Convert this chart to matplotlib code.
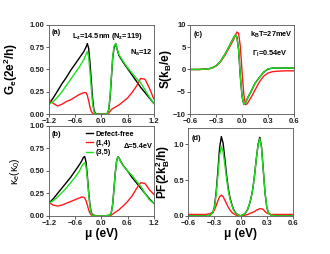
import numpy as np
import matplotlib
matplotlib.use("Agg")
import matplotlib.pyplot as plt

plt.rcParams['font.family'] = ['Liberation Sans', 'DejaVu Sans']
plt.rcParams['font.weight'] = 'bold'
plt.rcParams['mathtext.default'] = 'regular'

# ---- (a) electrical conductance ----
mu_g = [-1.2, -1.1, -1.0, -0.9, -0.8, -0.7, -0.6, -0.5, -0.4, -0.35, -0.32, -0.29, -0.26, -0.23, -0.2,
        -0.17, -0.14, -0.1, 0.0, 0.1, 0.14, 0.17, 0.2, 0.23, 0.26, 0.29, 0.33, 0.36, 0.4, 0.5, 0.6,
        0.7, 0.8, 0.9, 1.0, 1.1, 1.2]
g_free = [0.11, 0.18, 0.26, 0.34, 0.41, 0.49, 0.56, 0.63, 0.70, 0.75, 0.79, 0.74, 0.58, 0.38, 0.18,
          0.05, 0.01, 0.0, 0.0, 0.0, 0.01, 0.05, 0.18, 0.40, 0.62, 0.74, 0.79, 0.73, 0.66, 0.58, 0.51,
          0.44, 0.37, 0.30, 0.24, 0.18, 0.12]
g_14 = [0.16, 0.12, 0.09, 0.11, 0.14, 0.16, 0.19, 0.22, 0.24, 0.24, 0.21, 0.15, 0.08, 0.03, 0.01,
        0.0, 0.0, 0.0, 0.0, 0.0, 0.0, 0.01, 0.03, 0.05, 0.06, 0.07, 0.08, 0.09, 0.10, 0.14, 0.18,
        0.24, 0.31, 0.40, 0.39, 0.29, 0.17]
g_35 = [0.11, 0.14, 0.19, 0.25, 0.32, 0.39, 0.46, 0.53, 0.61, 0.67, 0.70, 0.64, 0.48, 0.30, 0.12,
        0.03, 0.0, 0.0, 0.0, 0.0, 0.01, 0.05, 0.20, 0.42, 0.64, 0.76, 0.79, 0.73, 0.67, 0.59, 0.52,
        0.46, 0.40, 0.35, 0.27, 0.19, 0.12]

# ---- (b) electron thermal conductance ----
mu_k = [-1.2, -1.1, -1.0, -0.9, -0.8, -0.7, -0.6, -0.5, -0.45, -0.41, -0.38, -0.35, -0.32, -0.29,
        -0.26, -0.23, -0.2, -0.1, 0.0, 0.1, 0.2, 0.23, 0.26, 0.29, 0.32, 0.35, 0.38, 0.41, 0.45,
        0.5, 0.6, 0.7, 0.8, 0.9, 1.0, 1.1, 1.2]
k_free = [0.14, 0.19, 0.25, 0.31, 0.37, 0.43, 0.50, 0.57, 0.61, 0.65, 0.66, 0.60, 0.45, 0.27,
          0.12, 0.04, 0.01, 0.0, 0.0, 0.0, 0.01, 0.04, 0.13, 0.30, 0.48, 0.61, 0.66, 0.64, 0.60,
          0.56, 0.50, 0.43, 0.37, 0.31, 0.25, 0.19, 0.14]
k_14 = [0.15, 0.12, 0.11, 0.12, 0.14, 0.16, 0.18, 0.20, 0.21, 0.21, 0.20, 0.17, 0.12, 0.07,
        0.03, 0.01, 0.0, 0.0, 0.0, 0.0, 0.0, 0.01, 0.02, 0.03, 0.04, 0.05, 0.06, 0.07, 0.09,
        0.11, 0.16, 0.22, 0.30, 0.37, 0.36, 0.29, 0.24]
k_35 = [0.14, 0.17, 0.21, 0.26, 0.31, 0.37, 0.43, 0.50, 0.55, 0.58, 0.59, 0.55, 0.42, 0.25,
        0.11, 0.03, 0.0, 0.0, 0.0, 0.0, 0.01, 0.04, 0.13, 0.30, 0.48, 0.61, 0.66, 0.64, 0.60,
        0.56, 0.50, 0.45, 0.39, 0.33, 0.25, 0.18, 0.14]

# ---- (c) Seebeck coefficient ----
mu_s = [-0.6, -0.5, -0.4, -0.35, -0.3, -0.25, -0.2, -0.15, -0.12, -0.1, -0.08, -0.06, -0.04, -0.02,
        0.0, 0.02, 0.04, 0.06, 0.08, 0.1, 0.12, 0.15, 0.2, 0.25, 0.3, 0.35, 0.4, 0.5, 0.6]
s_14 = [0.0, 0.0, 0.1, 0.3, 0.8, 1.7, 3.1, 4.8, 5.9, 6.6, 7.5, 8.4, 8.1, 5.2,
        -0.5, -5.5, -7.9, -7.7, -7.0, -6.4, -5.7, -4.6, -2.8, -1.5, -0.8, -0.5, -0.4, -0.3, -0.3]
s_35 = [0.0, 0.0, 0.1, 0.3, 0.8, 1.8, 3.3, 5.1, 6.3, 7.0, 7.7, 7.3, 4.5, -1.5,
        -6.0, -7.8, -7.5, -6.6, -5.8, -5.1, -4.3, -3.1, -1.8, -0.6, 0.1, 0.3, 0.3, 0.3, 0.3]
s_free = [0.0, 0.0, 0.1, 0.3, 0.8, 1.8, 3.3, 5.1, 6.3, 7.0, 7.7, 7.3, 4.5, -1.5,
          -6.0, -7.8, -7.5, -6.6, -5.8, -5.1, -4.3, -3.1, -1.8, -0.6, 0.1, 0.3, 0.3, 0.3, 0.3]

# ---- (d) power factor ----
mu_p = [-0.6, -0.5, -0.4, -0.35, -0.32, -0.3, -0.28, -0.26, -0.24, -0.22, -0.2, -0.18, -0.16, -0.14,
        -0.12, -0.1, -0.08, -0.05, 0.0, 0.05, 0.08, 0.1, 0.12, 0.14, 0.16, 0.18, 0.2, 0.22, 0.24,
        0.26, 0.28, 0.3, 0.32, 0.35, 0.4, 0.5, 0.6]
pf_free = [0.0, 0.0, 0.0, 0.01, 0.04, 0.12, 0.32, 0.62, 0.95, 1.11, 1.02, 0.80, 0.57, 0.38,
           0.25, 0.16, 0.09, 0.03, 0.0, 0.03, 0.09, 0.16, 0.25, 0.38, 0.57, 0.80, 1.00, 1.10, 0.96,
           0.64, 0.32, 0.12, 0.04, 0.01, 0.0, 0.0, 0.0]
pf_14 = [0.02, 0.02, 0.02, 0.03, 0.05, 0.08, 0.14, 0.21, 0.27, 0.29, 0.27, 0.22, 0.17, 0.12,
         0.08, 0.05, 0.03, 0.01, 0.0, 0.01, 0.02, 0.03, 0.04, 0.05, 0.06, 0.08, 0.09, 0.10, 0.10,
         0.09, 0.06, 0.04, 0.03, 0.02, 0.02, 0.02, 0.02]
pf_35 = [0.0, 0.0, 0.0, 0.01, 0.04, 0.11, 0.29, 0.56, 0.85, 0.97, 0.90, 0.72, 0.52, 0.35,
         0.23, 0.15, 0.08, 0.03, 0.0, 0.03, 0.09, 0.16, 0.25, 0.38, 0.57, 0.80, 0.99, 1.08, 0.95,
         0.63, 0.32, 0.12, 0.04, 0.01, 0.0, 0.0, 0.0]

labels = ["Defect-free", "(1,4)", "(3,5)"]
colors = ["black", "#ff1a1a", "#1ee01e"]
tick_fs = 5.5
lw = 1.0
note_fs = 5.3
lab_fs = 8.5

fig = plt.figure(figsize=(3.30, 2.54), dpi=100)
ax_a = fig.add_axes([0.148, 0.551, 0.318, 0.351])
ax_b = fig.add_axes([0.148, 0.150, 0.318, 0.354])
ax_c = fig.add_axes([0.576, 0.551, 0.315, 0.351])
ax_d = fig.add_axes([0.570, 0.150, 0.318, 0.346])

def style(ax):
    for sp in ax.spines.values():
        sp.set_color('#555555')
        sp.set_linewidth(0.6)
    ax.tick_params(direction='out', length=2, width=0.5, pad=1, labelsize=tick_fs,
                   colors='#222222')
    for t in ax.get_xticklabels() + ax.get_yticklabels():
        t.set_fontweight('bold')

# (a)
for y, c in zip([g_free, g_14, g_35], colors):
    ax_a.plot(mu_g, y, color=c, lw=lw)
ax_a.set_xlim(-1.2, 1.2)
ax_a.set_ylim(0, 1)
ax_a.set_xticks([-1.2, -0.6, 0.0, 0.6, 1.2])
ax_a.set_yticks([0, 0.25, 0.5, 0.75, 1.0])
ax_a.set_yticklabels(["0.00", "0.25", "0.50", "0.75", "1.00"])
ax_a.set_ylabel("G$_e$(2e$^2$/h)", fontsize=lab_fs, fontweight='bold')
ax_a.yaxis.set_label_coords(-0.275, 0.5)
ax_a.text(0.03, 0.91, "(a)", transform=ax_a.transAxes, fontsize=note_fs, va='center')
ax_a.text(0.56, 0.875, "L$_z$=14.5nm (N$_z$=119)", transform=ax_a.transAxes, fontsize=note_fs,
          ha='center', va='center')
ax_a.text(0.88, 0.685, "N$_a$=12", transform=ax_a.transAxes, fontsize=note_fs, ha='center', va='center')
style(ax_a)

# (b)
for y, c, lab in zip([k_free, k_14, k_35], colors, labels):
    ax_b.plot(mu_k, y, color=c, lw=lw, label=lab)
ax_b.set_xlim(-1.2, 1.2)
ax_b.set_ylim(0, 1)
ax_b.set_xticks([-1.2, -0.6, 0.0, 0.6, 1.2])
ax_b.set_yticks([0, 0.25, 0.5, 0.75, 1.0])
ax_b.set_yticklabels(["0.00", "0.25", "0.50", "0.75", "1.00"])
ax_b.set_ylabel("κ$_e$(κ$_0$)", fontsize=7.5, fontweight='normal')
ax_b.yaxis.set_label_coords(-0.26, 0.5)
ax_b.set_xlabel("μ (eV)", fontsize=lab_fs, fontweight='bold', labelpad=1)
ax_b.text(0.03, 0.91, "(b)", transform=ax_b.transAxes, fontsize=note_fs, va='center')
ax_b.text(0.85, 0.77, "Δ=5.4eV", transform=ax_b.transAxes, fontsize=note_fs, ha='center', va='center')
ax_b.legend(loc='upper left', bbox_to_anchor=(0.31, 1.0), frameon=False, fontsize=note_fs,
            handlelength=1.0, handletextpad=0.3, labelspacing=0.3, borderaxespad=0.2)
style(ax_b)

# (c)
for y, c in zip([s_free, s_14, s_35], colors):
    ax_c.plot(mu_s, y, color=c, lw=lw)
ax_c.set_xlim(-0.6, 0.6)
ax_c.set_ylim(-10, 10)
ax_c.set_xticks([-0.6, -0.3, 0.0, 0.3, 0.6])
ax_c.set_yticks([-10, -5, 0, 5, 10])
ax_c.set_ylabel("S(k$_B$/e)", fontsize=lab_fs, fontweight='bold')
ax_c.yaxis.set_label_coords(-0.155, 0.5)
ax_c.text(0.03, 0.89, "(c)", transform=ax_c.transAxes, fontsize=note_fs, va='center')
ax_c.text(0.78, 0.89, "k$_B$T=27meV", transform=ax_c.transAxes, fontsize=note_fs, ha='center', va='center')
ax_c.text(0.77, 0.68, "Γ$_l$=0.54eV", transform=ax_c.transAxes, fontsize=note_fs, ha='center', va='center')
style(ax_c)

# (d)
for y, c in zip([pf_free, pf_14, pf_35], colors):
    ax_d.plot(mu_p, y, color=c, lw=lw)
ax_d.set_xlim(-0.6, 0.6)
ax_d.set_ylim(0, 1.23)
ax_d.set_xticks([-0.6, -0.3, 0.0, 0.3, 0.6])
ax_d.set_yticks([0, 0.5, 1.0])
ax_d.set_ylabel("PF(2k$_B^2$/h)", fontsize=lab_fs, fontweight='bold')
ax_d.yaxis.set_label_coords(-0.15, 0.5)
ax_d.set_xlabel("μ (eV)", fontsize=lab_fs, fontweight='bold', labelpad=1)
ax_d.text(0.03, 0.885, "(d)", transform=ax_d.transAxes, fontsize=note_fs, va='center')
style(ax_d)

fig.savefig("out.png", dpi=100)
